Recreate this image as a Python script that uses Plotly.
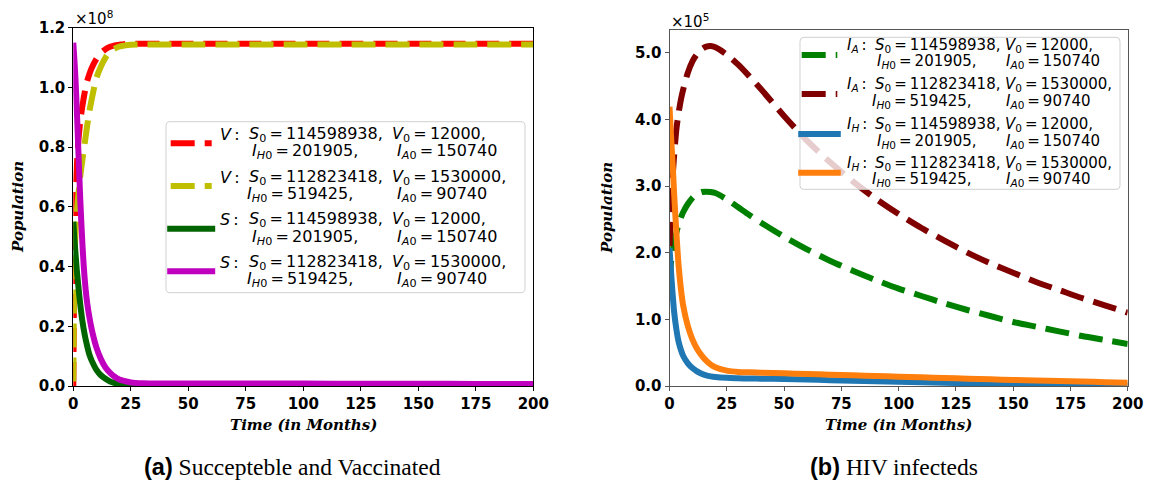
import plotly.graph_objects as go

W, H = 1159, 485

# ---------------- panel (a): susceptible / vaccinated (units of 1e8) ----------------
t_a = [0, 0.25, 0.5, 1, 1.5, 2, 3, 4, 5, 6, 7, 8, 10, 12, 14, 16, 18, 20, 22, 25,
       30, 40, 50, 75, 100, 125, 150, 175, 200]
V_run1 = [0.0, 0.25, 0.42, 0.64, 0.73, 0.8, 0.885, 0.94, 0.985, 1.02, 1.045, 1.065,
          1.095, 1.115, 1.128, 1.136, 1.141, 1.143, 1.145, 1.146,
          1.146, 1.146, 1.146, 1.146, 1.146, 1.146, 1.146, 1.146, 1.146]
V_run2 = [0.015, 0.25, 0.42, 0.52, 0.58, 0.625, 0.7, 0.76, 0.815, 0.87, 0.92, 0.96,
          1.03, 1.07, 1.1, 1.12, 1.13, 1.137, 1.14, 1.143,
          1.144, 1.144, 1.144, 1.144, 1.144, 1.144, 1.144, 1.144, 1.144]
S_run1 = [0.55, 0.52, 0.49, 0.44, 0.39, 0.35, 0.275, 0.215, 0.17, 0.135, 0.105, 0.085,
          0.055, 0.036, 0.024, 0.015, 0.01, 0.007, 0.006, 0.005,
          0.005, 0.005, 0.005, 0.005, 0.005, 0.005, 0.005, 0.005, 0.005]
S_run2 = [1.15, 1.12, 1.09, 1.02, 0.93, 0.83, 0.63, 0.47, 0.355, 0.28, 0.23, 0.19,
          0.13, 0.09, 0.062, 0.044, 0.031, 0.022, 0.017, 0.012,
          0.009, 0.008, 0.008, 0.008, 0.008, 0.0075, 0.0075, 0.007, 0.007]

# ---------------- panel (b): HIV infected (units of 1e5) ----------------
t_b = [0, 0.5, 1, 1.5, 2, 3, 4, 5, 6, 8, 10, 12, 14, 16, 18, 20, 25, 30, 35, 40,
       50, 60, 70, 80, 90, 100, 110, 120, 130, 140, 150, 160, 170, 180, 190, 200]
IA_run1 = [1.52, 1.8, 1.95, 2.05, 2.15, 2.3, 2.43, 2.53, 2.61, 2.73, 2.82, 2.88, 2.91,
           2.915, 2.91, 2.895, 2.8, 2.68, 2.56, 2.45, 2.24, 2.05, 1.88, 1.73, 1.59,
           1.46, 1.35, 1.24, 1.14, 1.05, 0.96, 0.89, 0.82, 0.75, 0.69, 0.63]
IA_run2 = [2.1, 2.5, 2.9, 3.2, 3.45, 3.85, 4.1, 4.3, 4.45, 4.7, 4.87, 4.98, 5.05,
           5.09, 5.1, 5.08, 4.97, 4.82, 4.64, 4.45, 4.05, 3.68, 3.36, 3.07, 2.81,
           2.58, 2.37, 2.18, 2.0, 1.84, 1.7, 1.56, 1.44, 1.32, 1.21, 1.1]
IH_run1 = [2.07, 1.8, 1.55, 1.32, 1.12, 0.85, 0.66, 0.54, 0.45, 0.34, 0.27, 0.22,
           0.185, 0.16, 0.145, 0.135, 0.122, 0.116, 0.112, 0.11, 0.105, 0.097,
           0.088, 0.079, 0.07, 0.062, 0.055, 0.048, 0.042, 0.036, 0.031, 0.026,
           0.022, 0.018, 0.015, 0.012]
IH_run2 = [4.19, 3.85, 3.55, 3.25, 2.9, 2.3, 1.8, 1.45, 1.2, 0.9, 0.7, 0.56, 0.46,
           0.38, 0.32, 0.28, 0.23, 0.21, 0.205, 0.2, 0.19, 0.18, 0.17, 0.16, 0.15,
           0.14, 0.13, 0.12, 0.11, 0.1, 0.09, 0.082, 0.074, 0.066, 0.058, 0.05]

# initial conditions quoted in the legends
S0_vals = ["114598938", "112823418"]
V0_vals = ["12000", "1530000"]
IH0_vals = ["201905", "519425"]
IA0_vals = ["150740", "90740"]

x_ticks = [0, 25, 50, 75, 100, 125, 150, 175, 200]
y_ticks_a = [0.0, 0.2, 0.4, 0.6, 0.8, 1.0, 1.2]
y_ticks_b = [0.0, 1.0, 2.0, 3.0, 4.0, 5.0]


def px(x):
    return x / W


def py(y):
    return 1 - y / H


DASH = "24px,10px"
LW = 6
EQ = "\u2009=\u2009"   # thin spaces around the equals sign

fig = go.Figure()


def curve(t, v, color, dashed, xa, ya):
    fig.add_trace(go.Scatter(
        x=t, y=v, mode="lines", xaxis=xa, yaxis=ya, showlegend=False,
        hoverinfo="skip",
        line=dict(color=color, width=LW, dash=DASH if dashed else "solid",
                  shape="spline", smoothing=0.8)))


# panel (a) curves, drawn in legend order
panel_a = [
    (V_run1, "#ff0000", True),
    (V_run2, "#bfbf00", True),
    (S_run1, "#006400", False),
    (S_run2, "#bf00bf", False),
]
for v, c, d in panel_a:
    curve(t_a, v, c, d, "x", "y")

# panel (b) curves
panel_b = [
    (IA_run1, "#008000", True),
    (IA_run2, "#800000", True),
    (IH_run1, "#1f77b4", False),
    (IH_run2, "#ff7f0e", False),
]
for v, c, d in panel_b:
    curve(t_b, v, c, d, "x2", "y2")

tick_font = dict(family="DejaVu Sans", size=15, color="black", weight="bold")


def axis_style(color):
    return dict(showline=True, mirror=True, linecolor=color, linewidth=1,
                ticks="outside", ticklen=4, tickwidth=1, tickcolor=color,
                showgrid=False, zeroline=False, tickfont=tick_font,
                automargin=False)


fig.update_layout(
    width=W, height=H, margin=dict(l=0, r=0, t=0, b=0, pad=0),
    paper_bgcolor="white", plot_bgcolor="white",
    xaxis=dict(domain=[px(73.3), px(533.3)], range=[0, 200], anchor="y",
               tickvals=x_ticks, **axis_style("black")),
    yaxis=dict(domain=[py(386), py(27.7)], range=[0, 1.2], anchor="x",
               tickvals=y_ticks_a, tickformat=".1f", **axis_style("black")),
    xaxis2=dict(domain=[px(669.5), px(1127.7)], range=[0, 200], anchor="y2",
                tickvals=x_ticks, **axis_style("#555555")),
    yaxis2=dict(domain=[py(386), py(30)], range=[0, 5.34], anchor="x2",
                tickvals=y_ticks_b, tickformat=".1f", **axis_style("#555555")),
)

annotations = []
shapes = []


def text(x, y, s, size, family="DejaVu Sans", xanchor="left", angle=0,
         weight="normal", style="normal"):
    annotations.append(dict(
        x=px(x), y=py(y), xref="paper", yref="paper", text=s, showarrow=False,
        xanchor=xanchor, yanchor="middle", textangle=angle,
        font=dict(family=family, size=size, color="black", weight=weight,
                  style=style)))


# exponent labels
text(73, 18, "×10<sup>8</sup>", 15)
text(669, 21, "×10<sup>5</sup>", 15)

# axis titles
for cx in (303.3, 898.6):
    text(cx, 425, "Time (in Months)", 15, family="DejaVu Serif",
         xanchor="center", weight="bold", style="italic")
text(18, 207, "Population", 15, family="DejaVu Serif", xanchor="center",
     angle=-90, weight="bold", style="italic")
text(607, 208, "Population", 15, family="DejaVu Serif", xanchor="center",
     angle=-90, weight="bold", style="italic")

# sub-figure captions
text(292.5, 467, "<span style='font-family:Liberation Sans'><b>(a)</b></span> "
     "Succepteble and Vaccinated", 23.5, family="Liberation Serif", xanchor="center")
text(893.5, 467, "<span style='font-family:Liberation Sans'><b>(b)</b></span> "
     "HIV infecteds", 23.5, family="Liberation Serif", xanchor="center")


def rounded_box(x0, y0, x1, y1, r=4):
    pts = [
        ("M", x0 + r, y0), ("L", x1 - r, y0), ("Q", x1, y0, x1, y0 + r),
        ("L", x1, y1 - r), ("Q", x1, y1, x1 - r, y1), ("L", x0 + r, y1),
        ("Q", x0, y1, x0, y1 - r), ("L", x0, y0 + r), ("Q", x0, y0, x0 + r, y0),
    ]
    parts = []
    for p in pts:
        cmd, coords = p[0], p[1:]
        xy = []
        for i in range(0, len(coords), 2):
            xy.append(f"{px(coords[i]):.5f},{py(coords[i + 1]):.5f}")
        parts.append(cmd + " " + " ".join(xy))
    shapes.append(dict(type="path", xref="paper", yref="paper", layer="above",
                       path=" ".join(parts) + " Z",
                       fillcolor="rgba(255,255,255,0.8)",
                       line=dict(color="#d0d0d0", width=1)))


def sample(x0, x1, y, color, dashed):
    shapes.append(dict(type="line", xref="paper", yref="paper", layer="above",
                       x0=px(x0), x1=px(x1), y0=py(y), y1=py(y),
                       line=dict(color=color, width=LW,
                                 dash=DASH if dashed else "solid")))


def legend(box, entries, sample_x, sample_y, cols, size, dy1, dy2, ih_x):
    rounded_box(*box)
    for k, (label, color, dashed, run) in enumerate(entries):
        sy = sample_y[k]
        if dashed:
            sample(sample_x[0], sample_x[1], sy, color, True)
        else:
            sample(sample_x[0] - 3.5, sample_x[1] + 3.5, sy, color, False)
        y1, y2 = sy + dy1, sy + dy2
        text(cols[0], y1, label, size)
        text(cols[1], y1, f"<i>S</i><sub>0</sub>{EQ}{S0_vals[run]},", size)
        text(cols[2], y1, f"<i>V</i><sub>0</sub>{EQ}{V0_vals[run]},", size)
        text(ih_x[run], y2, f"<i>I</i><sub><i>H</i>0</sub>{EQ}{IH0_vals[run]},", size)
        text(cols[3], y2, f"<i>I</i><sub><i>A</i>0</sub>{EQ}{IA0_vals[run]}", size)


legend((166, 121.7, 525, 292.7),
       [("<i>V</i>\u2009:", "#ff0000", True, 0),
        ("<i>V</i>\u2009:", "#bfbf00", True, 1),
        ("<i>S</i>\u2009:", "#006400", False, 0),
        ("<i>S</i>\u2009:", "#bf00bf", False, 1)],
       (170.7, 211.7), [143.3, 186.0, 228.7, 271.3],
       (218.3, 246.7, 390.0, 395.0), 16, -9.0, 8.3, (250.0, 245.0))

legend((800, 37.3, 1120, 189.3),
       [("<i>I</i><sub><i>A</i></sub>\u2009:", "#008000", True, 0),
        ("<i>I</i><sub><i>A</i></sub>\u2009:", "#800000", True, 1),
        ("<i>I</i><sub><i>H</i></sub>\u2009:", "#1f77b4", False, 0),
        ("<i>I</i><sub><i>H</i></sub>\u2009:", "#ff7f0e", False, 1)],
       (801.7, 837.3), [55.0, 94.0, 134.0, 172.7],
       (845.0, 873.3, 1002.7, 1004.0), 15, -9.5, 7.0, (875.0, 870.0))

fig.update_layout(annotations=annotations, shapes=shapes)
fig.write_html("out.html")
